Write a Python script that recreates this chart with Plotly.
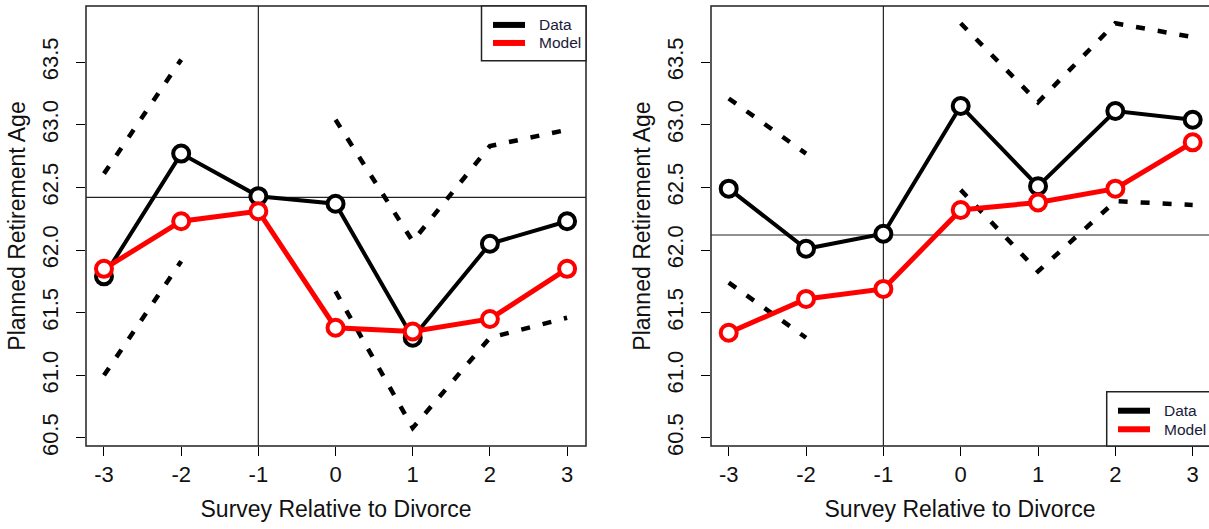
import plotly.graph_objects as go

# ---------------- data ----------------
survey = [-3, -2, -1, 0, 1, 2, 3]

# Left panel
left_data = [61.79, 62.77, 62.43, 62.37, 61.30, 62.05, 62.23]
left_model = [61.85, 62.23, 62.31, 61.38, 61.35, 61.45, 61.85]
left_upper = [62.61, 63.52, None, 63.04, 62.07, 62.83, 62.96]
left_lower = [61.00, 61.91, None, 61.67, 60.58, 61.30, 61.46]
left_hline = 62.42

# Right panel
right_data = [62.49, 62.01, 62.13, 63.15, 62.51, 63.11, 63.04]
right_model = [61.34, 61.61, 61.69, 62.32, 62.38, 62.49, 62.86]
right_upper = [63.21, 62.77, None, 63.81, 63.18, 63.81, 63.70]
right_lower = [61.74, 61.30, None, 62.48, 61.83, 62.39, 62.36]
right_hline = 62.12

vline_x = -1
y_ticks = [60.5, 61.0, 61.5, 62.0, 62.5, 63.0, 63.5]
y_tick_text = ["60.5", "61.0", "61.5", "62.0", "62.5", "63.0", "63.5"]
x_tick_text = ["-3", "-2", "-1", "0", "1", "2", "3"]
legend_labels = ["Data", "Model"]
x_title = "Survey Relative to Divorce"
y_title = "Planned Retirement Age"

# ---------------- figure ----------------
W, H = 1209, 529
FONT = "Liberation Sans, Arial, sans-serif"
TXT = "#111111"
BLACK = "#000000"
RED = "#ff0000"

fig = go.Figure()

panels = [
    dict(xa="x", ya="y", data=left_data, model=left_model, up=left_upper,
         lo=left_lower, h=left_hline),
    dict(xa="x2", ya="y2", data=right_data, model=right_model, up=right_upper,
         lo=right_lower, h=right_hline),
]

dash = "9px,13px"
for p in panels:
    for band in (p["up"], p["lo"]):
        fig.add_trace(go.Scatter(
            x=survey, y=band, xaxis=p["xa"], yaxis=p["ya"], mode="lines",
            line=dict(color=BLACK, width=4.5, dash=dash),
            connectgaps=False, showlegend=False, hoverinfo="skip"))
    fig.add_trace(go.Scatter(
        x=survey, y=p["data"], xaxis=p["xa"], yaxis=p["ya"], mode="lines+markers",
        line=dict(color=BLACK, width=4),
        marker=dict(symbol="circle", size=16, color="white",
                    line=dict(color=BLACK, width=4)),
        showlegend=False, name="Data"))
    fig.add_trace(go.Scatter(
        x=survey, y=p["model"], xaxis=p["xa"], yaxis=p["ya"], mode="lines+markers",
        line=dict(color=RED, width=5),
        marker=dict(symbol="circle", size=16, color="white",
                    line=dict(color=RED, width=4)),
        showlegend=False, name="Model"))

# plot box geometry (pixels)
top_px, bot_px = 6, 446
yrange = [60.436, 63.948]

axis_common = dict(
    showgrid=False, zeroline=False, showline=False, automargin=False,
    ticks="outside", ticklen=9, tickwidth=1.2, tickcolor=BLACK,
    tickfont=dict(family=FONT, size=22, color=TXT),
)
title_font = dict(family=FONT, size=23, color=TXT)

fig.update_layout(
    width=W, height=H,
    margin=dict(l=0, r=0, t=0, b=0),
    paper_bgcolor="white", plot_bgcolor="white",
    showlegend=False,
    xaxis=dict(domain=[86 / W, 586 / W], range=[-3.233, 3.245],
               tickvals=survey, ticktext=x_tick_text, anchor="y",
               title=dict(text=x_title, font=title_font, standoff=14),
               **axis_common),
    yaxis=dict(domain=[1 - bot_px / H, 1 - top_px / H], range=yrange,
               tickvals=y_ticks, ticktext=y_tick_text, tickangle=-90, anchor="x",
               ticklabelstandoff=9,
               title=dict(text=y_title, font=title_font, standoff=6),
               **axis_common),
    xaxis2=dict(domain=[711 / W, 1.0], range=[-3.229, 3.211],
                tickvals=survey, ticktext=x_tick_text, anchor="y2",
                title=dict(text=x_title, font=title_font, standoff=14),
                **axis_common),
    yaxis2=dict(domain=[1 - bot_px / H, 1 - top_px / H], range=yrange,
                tickvals=y_ticks, ticktext=y_tick_text, tickangle=-90, anchor="x2",
                ticklabelstandoff=9,
                title=dict(text=y_title, font=title_font, standoff=6),
                **axis_common),
)

shapes = []
annotations = []
for xa, ya, p in (("x", "y", panels[0]), ("x2", "y2", panels[1])):
    shapes.append(dict(type="line", xref=f"{xa} domain", yref=ya, x0=0, x1=1,
                       y0=p["h"], y1=p["h"], line=dict(color="#222222", width=1.2),
                       layer="below"))
    shapes.append(dict(type="line", xref=xa, yref=f"{ya} domain", x0=vline_x, x1=vline_x,
                       y0=0, y1=1, line=dict(color="#222222", width=1.2), layer="below"))
    shapes.append(dict(type="rect", xref=f"{xa} domain", yref=f"{ya} domain",
                       x0=0, x1=1.0 if xa == "x" else 1.02, y0=0, y1=1,
                       line=dict(color="#222222", width=1.5)))

# legends (left: top-right; right: bottom-right)
leg_specs = [
    dict(xa="x", ya="y", box=(0.791, 1.0, 0.8757, 1.0), lx=(0.814, 0.878),
         ly=(0.957, 0.916), tx=0.902),
    dict(xa="x2", ya="y2", box=(0.7946, 1.02, 0.0, 0.1234), lx=(0.8173, 0.8815),
         ly=(0.0802, 0.038), tx=0.9056),
]
for s in leg_specs:
    xr, yr = f"{s['xa']} domain", f"{s['ya']} domain"
    x0, x1, y0, y1 = s["box"]
    shapes.append(dict(type="rect", xref=xr, yref=yr, x0=x0, x1=x1, y0=y0, y1=y1,
                       line=dict(color="#222222", width=1.5), fillcolor="white"))
    for lab, col, yy in zip(legend_labels, [BLACK, RED], s["ly"]):
        shapes.append(dict(type="line", xref=xr, yref=yr, x0=s["lx"][0], x1=s["lx"][1],
                           y0=yy, y1=yy, line=dict(color=col, width=6)))
        annotations.append(dict(xref=xr, yref=yr, x=s["tx"], y=yy, text=lab,
                                showarrow=False, xanchor="left", yanchor="middle",
                                font=dict(family=FONT, size=15.5, color="#1a1a3a")))

fig.update_layout(shapes=shapes, annotations=annotations)

fig.write_html("out.html", config={"displayModeBar": False},
               post_script="document.body.style.margin='0';document.body.style.overflow='hidden';")
